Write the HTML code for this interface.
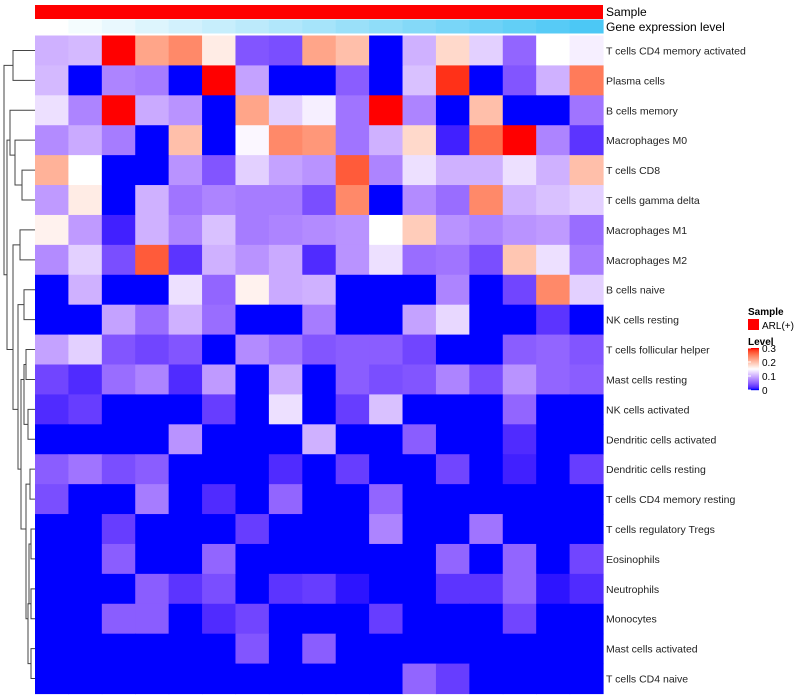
<!DOCTYPE html>
<html><head><meta charset="utf-8"><style>
html,body{margin:0;padding:0;background:#fff;width:800px;height:700px;overflow:hidden}
svg{display:block;font-family:"Liberation Sans",sans-serif}
</style></head><body>
<svg id="chart" width="800" height="700" viewBox="0 0 800 700">
<g id="cells"></g>
<g id="labels"></g>
<g id="annot"></g>
<g id="dendro" stroke="#444" stroke-width="1" fill="none"></g>
<text x="606" y="16" font-size="12">Sample</text>
<text x="606" y="31" font-size="12">Gene expression level</text>
<g>
<text x="748" y="315" font-size="10" font-weight="bold">Sample</text>
<rect x="748" y="319" width="11" height="11" fill="#ff0000"/>
<text x="762" y="329" font-size="10">ARL(+)</text>
<text x="748" y="345" font-size="10" font-weight="bold">Level</text>
<g id="cbar"></g>
<g id="ticks"></g>
</g>
</svg>
<script>
const rowNames=["T cells CD4 memory activated","Plasma cells","B cells memory","Macrophages M0","T cells CD8","T cells gamma delta","Macrophages M1","Macrophages M2","B cells naive","NK cells resting","T cells follicular helper","Mast cells resting","NK cells activated","Dendritic cells activated","Dendritic cells resting","T cells CD4 memory resting","T cells regulatory  Tregs","Eosinophils","Neutrophils","Monocytes","Mast cells activated","T cells CD4 naive"];
const legendTicks=[0.3,0.2,0.1,0];
const r1=[0.10,0.105,0.3,0.22,0.24,0.165,0.04,0.035,0.22,0.2,0,0.1,0.18,0.12,0.05,0.15,0.14];
const r2=[0.105,0,0.07,0.065,0,0.3,0.09,0,0,0.045,0,0.11,0.29,0,0.04,0.1,0.25];
const r3=[0.13,0.07,0.3,0.095,0.08,0,0.22,0.12,0.14,0.06,0.3,0.07,0,0.2,0,0,0.06];
const r4=[0.075,0.095,0.065,0,0.2,0,0.145,0.24,0.23,0.06,0.1,0.18,0.01,0.26,0.3,0.07,0.02];
const r5=[0.21,0.15,0,0,0.08,0.04,0.12,0.09,0.08,0.27,0.07,0.13,0.1,0.1,0.13,0.1,0.2];
const r6=[0.085,0.165,0,0.1,0.06,0.07,0.065,0.065,0.035,0.24,0,0.075,0.055,0.24,0.1,0.11,0.12];
const r7=[0.16,0.085,0.01,0.1,0.07,0.11,0.065,0.07,0.075,0.08,0.15,0.19,0.08,0.07,0.08,0.085,0.055];
const r8=[0.075,0.12,0.035,0.27,0.02,0.1,0.08,0.095,0.015,0.08,0.13,0.055,0.06,0.035,0.195,0.13,0.065];
const r9=[0,0.1,0,0,0.13,0.05,0.16,0.095,0.1,0,0,0,0.07,0,0.03,0.24,0.12];
const r10=[0,0,0.09,0.055,0.1,0.055,0,0,0.065,0,0,0.09,0.125,0,0,0.02,0];
const r11=[0.09,0.12,0.04,0.03,0.04,0,0.075,0.06,0.04,0.045,0.045,0.03,0,0,0.045,0.05,0.04];
const r12=[0.03,0.015,0.055,0.07,0.015,0.085,0,0.095,0,0.045,0.035,0.04,0.07,0.035,0.08,0.05,0.045];
const r13=[0.015,0.025,0,0,0,0.025,0,0.13,0,0.025,0.11,0,0,0,0.05,0,0];
const r14=[0,0,0,0,0.08,0,0,0,0.1,0,0,0.045,0,0,0.015,0,0];
const r15=[0.045,0.06,0.035,0.045,0,0,0,0.015,0,0.025,0,0,0.03,0,0.01,0,0.025];
const r16=[0.035,0,0,0.065,0,0.015,0,0.05,0,0,0.05,0,0,0,0,0,0];
const r17=[0,0,0.025,0,0,0,0.025,0,0,0,0.07,0,0,0.06,0,0,0];
const r18=[0,0,0.045,0,0,0.05,0,0,0,0,0,0,0.05,0,0.05,0,0.03];
const r19=[0,0,0,0.045,0.02,0.035,0,0.02,0.025,0.005,0,0,0.02,0.02,0.05,0.005,0.015];
const r20=[0,0,0.045,0.045,0,0.015,0.03,0,0,0,0.025,0,0,0,0.03,0,0];
const r21=[0,0,0,0,0,0,0.04,0,0.045,0,0,0,0,0,0,0,0];
const r22=[0,0,0,0,0,0,0,0,0,0,0,0.05,0.025,0,0,0,0];
const values=[r1,r2,r3,r4,r5,r6,r7,r8,r9,r10,r11,r12,r13,r14,r15,r16,r17,r18,r19,r20,r21,r22];
const geneLevel=[0,1,2,3,4,5,6,7,8,9,10,11,12,13,14,15,16];
const NS="http://www.w3.org/2000/svg";
const X0=35,X1=603,Y0=35.5,Y1=693.5;
const nC=values[0].length,nR=values.length;
const cw=(X1-X0)/nC,rh=(Y1-Y0)/nR;
const xPos=c=>X0+c*cw, yPos=r=>Y0+r*rh;
// LAB interpolation
function s2l(c){c/=255;return c<=0.04045?c/12.92:Math.pow((c+0.055)/1.055,2.4);}
function l2s(c){c=c<=0.0031308?12.92*c:1.055*Math.pow(c,1/2.4)-0.055;return Math.max(0,Math.min(255,Math.round(c*255)));}
function toLab(rgb){const [r,g,b]=rgb.map(s2l);
 let X=(0.4124*r+0.3576*g+0.1805*b)/0.95047,Y=0.2126*r+0.7152*g+0.0722*b,Z=(0.0193*r+0.1192*g+0.9505*b)/1.08883;
 const f=t=>t>0.008856?Math.cbrt(t):7.787*t+16/116;const fx=f(X),fy=f(Y),fz=f(Z);
 return [116*fy-16,500*(fx-fy),200*(fy-fz)];}
function fromLab([L,a,bb]){const fy=(L+16)/116,fx=fy+a/500,fz=fy-bb/200;
 const fi=t=>t*t*t>0.008856?t*t*t:(t-16/116)/7.787;
 const X=fi(fx)*0.95047,Y=fi(fy),Z=fi(fz)*1.08883;
 const r=3.2406*X-1.5372*Y-0.4986*Z,g=-0.9689*X+1.8758*Y+0.0415*Z,b=0.0557*X-0.2040*Y+1.0570*Z;
 return `rgb(${l2s(r)},${l2s(g)},${l2s(b)})`;}
const LB=toLab([0,0,255]),LW=toLab([255,255,255]),LR=toLab([255,0,0]);
function mix(a,b,u){return a.map((v,i)=>v+(b[i]-v)*u);}
function color(v){
  const t=Math.max(0,Math.min(1,v/0.3));
  return t<0.5?fromLab(mix(LB,LW,t/0.5)):fromLab(mix(LW,LR,(t-0.5)/0.5));
}
function mk(tag,attrs,parent){const e=document.createElementNS(NS,tag);for(const k in attrs)e.setAttribute(k,attrs[k]);parent.appendChild(e);return e;}
const cells=document.getElementById('cells');
values.forEach((row,r)=>row.forEach((v,c)=>{
  const e=mk('rect',{x:xPos(c),y:yPos(r),width:cw+0.6,height:rh+0.6,fill:color(v)},cells);
  
  
}));
const labels=document.getElementById('labels');
rowNames.forEach((n,r)=>{
  const t=mk('text',{x:606,y:yPos(r)+rh/2+4,'font-size':10.5,fill:'#222'},labels);
  t.textContent=n;
  
  
});
const annot=document.getElementById('annot');
const s=mk('rect',{x:X0,y:5,width:X1-X0,height:14,fill:'#ff0000'},annot);


const gmax=Math.max(...geneLevel);
geneLevel.forEach((g,c)=>{
  const u=g/gmax;
  const col=`rgb(${Math.round(255-(255-76)*u)},${Math.round(255-(255-200)*u)},${Math.round(255-(255-245)*u)})`;
  const e=mk('rect',{x:xPos(c),y:19.5,width:cw+0.6,height:14,fill:col},annot);
  
  
});
const cbar=document.getElementById('cbar');
for(let i=0;i<42;i++){mk('rect',{x:748,y:348+i,width:11,height:1.2,fill:color(0.3*(1-i/41))},cbar);}
const ticks=document.getElementById('ticks');
legendTicks.forEach(v=>{
  const y=390-(v/0.3)*42;
  const t=mk('text',{x:762,y:y+4,'font-size':10},ticks);
  t.textContent=v===0?'0':String(v);
  
  
  mk('line',{x1:748,x2:751,y1:y,y2:y,stroke:'#fff'},ticks);
});
const d=document.getElementById('dendro');
const cy=r=>yPos(r)+rh/2;
function br(ya,yb,x,xa,xb){mk('path',{d:`M${xa},${ya}H${x}V${yb}H${xb}`},d);}
br(cy(0),cy(1),13,35,35);
br(cy(4),cy(5),22,35,35);
br(cy(3),(cy(4)+cy(5))/2,15,35,22);
br(cy(6),cy(7),20,35,35);
br(cy(2),(cy(3)+cy(4))/2,10,35,15);
br(cy(8),cy(9),24,35,35);
br(cy(10),cy(11),26,35,35);
br(cy(12),cy(13),28,35,35);
br((cy(10)+cy(11))/2,(cy(12)+cy(13))/2,24,26,28);
br(cy(14),cy(15),30,35,35);
br(cy(16),cy(17),31,35,35);
br(cy(18),cy(19),31,35,35);
br(cy(20),cy(21),31,35,35);
br((cy(16)+cy(17))/2,(cy(18)+cy(19))/2,29,31,31);
br((cy(18)+cy(19))/2,(cy(20)+cy(21))/2,28,29,31);
br((cy(14)+cy(15))/2,(cy(18)+cy(20))/2,26,30,28);
br((cy(10)+cy(12))/2,(cy(14)+cy(18))/2,21,24,26);
br((cy(8)+cy(9))/2,(cy(12)+cy(16))/2,18,24,21);
br((cy(6)+cy(7))/2,(cy(10)+cy(14))/2,13,20,18);
br((cy(2)+cy(4))/2,(cy(8)+cy(12))/2,7,10,13);
br((cy(0)+cy(1))/2,(cy(5)+cy(10))/2,4,13,7);
</script>
</body></html>
